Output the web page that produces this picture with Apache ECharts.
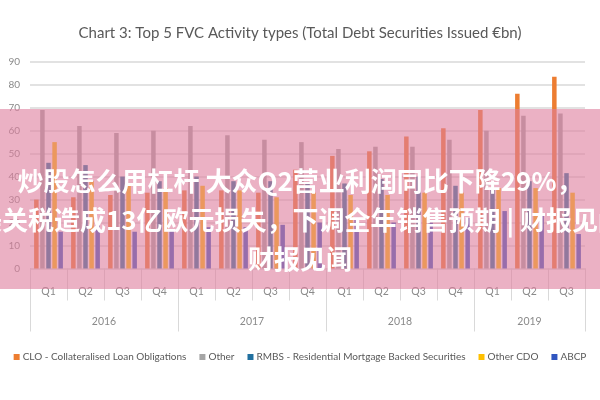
<!DOCTYPE html>
<html>
<head>
<meta charset="utf-8">
<script src="https://cdn.jsdelivr.net/npm/echarts@6/dist/echarts.min.js"></script>
<style>html,body{margin:0;padding:0;background:#fff}#c{width:600px;height:400px}</style>
</head>
<body>
<div id="c"></div>
<script>
var years = ['2016', '2017', '2018', '2019'];
var quartersPerYear = [4, 4, 4, 3];
var quarterNames = ['Q1', 'Q2', 'Q3', 'Q4'];
var seriesNames = ['CLO - Collateralised Loan Obligations', 'Other', 'RMBS - Residential Mortgage Backed Securities', 'Other CDO', 'ABCP'];
var clo      = [30, 31, 32, 33, 34, 34, 33, 43, 49, 51, 57.5, 61, 69, 76, 83.5];
var other    = [69, 62, 59, 60, 62, 58, 56, 55, 52, 53, 53, 56, 60, 66.5, 67.5];
var rmbs     = [46, 45, 40, 38, 40, 38, 38, 37, 37, 39, 40, 36, 35, 38, 41.5];
var otherCdo = [55, 38, 37, 35, 36, 34, 31, 33, 32, 32, 33, 33, 35, 35, 33];
var abcp     = [16, 20, 16, 17, 18, 18, 19, 20, 22, 20, 20, 22, 25, 24, 15];
var overlayLines = ['炒股怎么用杠杆 大众Q2营业利润同比下降29%，', '美关税造成13亿欧元损失，下调全年销售预期 | 财报见闻', '财报见闻'];

var categories = [];
var yearCenters = [];
var yearBounds = [0];
var pos = 0;
years.forEach(function (y, i) {
  for (var q = 0; q < quartersPerYear[i]; q++) categories.push(quarterNames[q]);
  yearCenters.push(pos + quartersPerYear[i] / 2);
  pos += quartersPerYear[i];
  yearBounds.push(pos);
});

var colors = ['#ED7D31', '#A5A5A5', '#21709F', '#FFC000', '#3056C0'];
var values = [clo, other, rmbs, otherCdo, abcp];
var font = 'Lato, "Open Sans", sans-serif';

var chart = echarts.init(document.getElementById('c'), null, {renderer: 'canvas'});
chart.setOption({
  animation: false,
  color: colors,
  title: {
    text: 'Chart 3: Top 5 FVC Activity types (Total Debt Securities Issued €bn)',
    left: 'center', top: 21,
    textStyle: {fontFamily: font, fontSize: 15, fontWeight: 'normal', color: '#595959'}
  },
  legend: {
    bottom: 33, left: 'center', itemWidth: 6, itemHeight: 6, itemGap: 13,
    icon: 'rect',
    textStyle: {fontFamily: font, fontSize: 10, color: '#595959', padding: [0, 0, 0, -2]},
    data: seriesNames
  },
  grid: {left: 30, right: 15, top: 61.7, bottom: 131.5},
  xAxis: [{
    type: 'category', data: categories, gridIndex: 0,
    axisLine: {show: false},
    axisTick: {show: true, length: 32, interval: 0, lineStyle: {color: '#D9D9D9'}},
    axisLabel: {interval: 0, margin: 18, fontFamily: font, fontSize: 10.5, color: '#8a8a8a'}
  }, {
    type: 'value', gridIndex: 0, position: 'bottom', min: 0, max: categories.length,
    axisLine: {show: false},
    splitLine: {show: false},
    axisTick: {show: true, length: 63, customValues: yearBounds, lineStyle: {color: '#D9D9D9'}},
    axisLabel: {
      customValues: yearCenters, margin: 48, fontFamily: font, fontSize: 10.5, color: '#8a8a8a',
      formatter: function (v) {
        for (var i = 0; i < yearCenters.length; i++) if (Math.abs(yearCenters[i] - v) < 0.01) return years[i];
        return '';
      }
    }
  }],
  yAxis: {
    type: 'value', min: 0, max: 90, interval: 10,
    axisLine: {show: false}, axisTick: {show: false},
    axisLabel: {margin: 10, fontFamily: font, fontSize: 10, color: '#8a8a8a'},
    splitLine: {lineStyle: {color: '#D9D9D9', width: 1.5}}
  },
  series: values.map(function (d, i) {
    return {name: seriesNames[i], type: 'bar', data: d, barWidth: 4.5, barGap: '35%', xAxisIndex: 0};
  }),
  graphic: [{
    type: 'rect', z: 100, shape: {x: 0, y: 109, width: 600, height: 180},
    style: {fill: 'rgba(222,125,157,0.6)'}
  }].concat(overlayLines.map(function (t, i) {
    return {
      type: 'text', z: 101, x: 300, y: 181 + i * 39,
      style: {
        text: t, fill: '#ffffff', align: 'center', verticalAlign: 'middle',
        font: 'bold 26px "Noto Sans CJK SC", sans-serif',
        shadowColor: 'rgba(120,40,70,0.35)', shadowBlur: 3
      }
    };
  }))
});
</script>
</body>
</html>
